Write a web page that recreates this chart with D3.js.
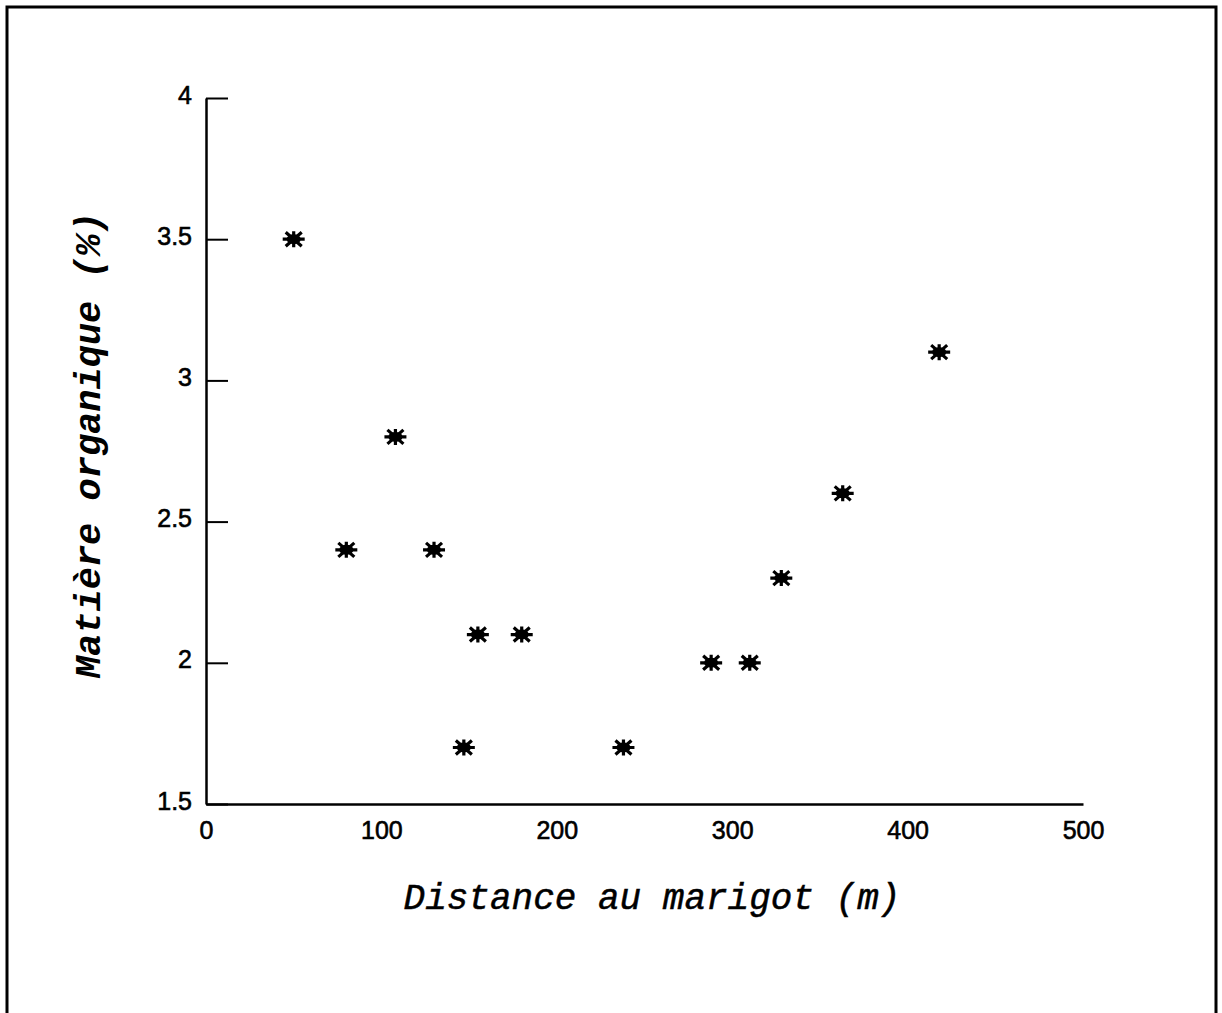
<!DOCTYPE html>
<html>
<head>
<meta charset="utf-8">
<script src="https://cdn.jsdelivr.net/npm/d3@7.9.0/dist/d3.min.js"></script>
<style>
  body { margin: 0; background: #fff; }
  svg { display: block; }
</style>
</head>
<body>
<svg id="chart" width="1222" height="1013"></svg>
<script>
// Data
const distances = [50, 80, 108, 130, 147, 155, 180, 238, 288, 310, 328, 363, 418];
const organic   = [3.5, 2.4, 2.8, 2.4, 1.7, 2.1, 2.1, 1.7, 2.0, 2.0, 2.3, 2.6, 3.1];
const xTicks = [0, 100, 200, 300, 400, 500];
const yTicks = [1.5, 2, 2.5, 3, 3.5, 4];
const xTitle = "Distance au marigot (m)";
const yTitle = "Matière organique (%)";

const svg = d3.select("#chart");

// outer frame (bottom edge runs off the page)
svg.append("path")
  .attr("d", "M7,1020 L7,7 L1216,7 L1216,1020")
  .attr("fill", "none")
  .attr("stroke", "#000")
  .attr("stroke-width", 3);

const x = d3.scaleLinear().domain([0, 500]).range([206, 1083]);
const y = d3.scaleLinear().domain([1.5, 4]).range([804, 98]);

function tickStyle(sel) {
  sel.style("font-family", "Liberation Sans, Arial, sans-serif")
    .style("font-size", "25px")
    .attr("stroke", "#000")
    .attr("stroke-width", 0.6);
}

// y axis: line + inward ticks
const yAxis = svg.append("g").attr("transform", `translate(${x(0)},0)`)
  .call(d3.axisRight(y).tickValues(yTicks).tickSize(22).tickSizeOuter(0).tickFormat(d3.format("")));
yAxis.select(".domain").attr("stroke-width", 2.5);
yAxis.selectAll(".tick line").attr("stroke-width", 2);
yAxis.selectAll(".tick text")
  .attr("x", -14)
  .attr("text-anchor", "end")
  .attr("dy", "0.2em")
  .call(tickStyle);

// x axis: line, no ticks
const xAxis = svg.append("g").attr("transform", `translate(0,${y(1.5)})`)
  .call(d3.axisBottom(x).tickValues(xTicks).tickSize(0).tickPadding(16).tickFormat(d3.format("")));
xAxis.select(".domain").attr("stroke-width", 2.5);
xAxis.selectAll(".tick text")
  .attr("dy", "0.75em")
  .call(tickStyle);

// axis titles
svg.append("text")
  .attr("x", 652).attr("y", 909)
  .attr("text-anchor", "middle")
  .style("font-family", "Liberation Mono, Courier New, monospace")
  .style("font-style", "italic")
  .style("font-size", "36px")
  .attr("stroke", "#000")
  .attr("stroke-width", 0.5)
  .text(xTitle);

svg.append("text")
  .attr("transform", "translate(100,445) rotate(-90)")
  .attr("text-anchor", "middle")
  .style("font-family", "Liberation Mono, Courier New, monospace")
  .style("font-style", "italic")
  .style("font-weight", "bold")
  .style("font-size", "37px")
  .text(yTitle);

// asterisk markers
const star = "M-11,0 L11,0 M-8,-7 L8,7 M-8,7 L8,-7 M0,-8 L0,8";
const pts = svg.append("g").selectAll("g")
  .data(distances.map((d, i) => ({ d, v: organic[i] })))
  .join("g")
  .attr("transform", p => `translate(${x(p.d)},${y(p.v)})`);
pts.append("path")
  .attr("d", star)
  .attr("stroke", "#000")
  .attr("stroke-width", 3.2)
  .attr("fill", "none");
pts.append("ellipse")
  .attr("rx", 7).attr("ry", 5)
  .attr("fill", "#000");
</script>
</body>
</html>
